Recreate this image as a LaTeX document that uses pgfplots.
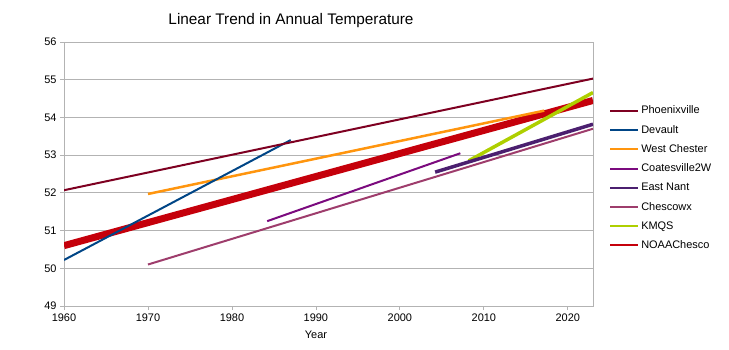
\documentclass[border=0pt]{standalone}
\usepackage{fontspec}
\setmainfont{Liberation Sans}
\usepackage{pgfplots}
\pgfplotsset{compat=1.18}
\definecolor{cPhoe}{HTML}{7E0021}
\definecolor{cDev}{HTML}{004586}
\definecolor{cWC}{HTML}{FF950E}
\definecolor{cCoat}{HTML}{7B0A7E}
\definecolor{cEN}{HTML}{4B1F6F}
\definecolor{cChes}{HTML}{9E3D6C}
\definecolor{cKMQS}{HTML}{AECF00}
\definecolor{cNOAA}{HTML}{C5000B}
\definecolor{cGrid}{HTML}{B3B3B3}
\begin{document}
\begin{tikzpicture}[x=1bp,y=1bp]
\useasboundingbox (0,0) rectangle (729,349);
\begin{axis}[
  at={(64bp,43bp)}, anchor=south west,
  scale only axis, width=529bp, height=264bp,
  xmin=1960, xmax=2023, ymin=49, ymax=56,
  xtick={1960,1970,...,2020}, ytick={49,50,...,56},
  ymajorgrids, grid style={cGrid, line width=0.8bp},
  axis line style={cGrid, line width=0.8bp},
  tick style={cGrid, line width=0.8bp},
  tick align=outside, tick pos=left, major tick length=4bp,
  ticklabel style={font=\fontsize{11}{13}\selectfont},
  /pgf/number format/1000 sep={},
  /pgf/number format/assume math mode=true,
  reverse legend,
  legend cell align=left,
  legend style={at={(1.03,0.485)}, anchor=west, draw=none, fill=none,
    font=\fontsize{11}{13}\selectfont, row sep=5.9bp, inner sep=0pt},
  legend image code/.code={\draw[#1, line width=2.2bp, line cap=butt] (0bp,0bp) -- (28bp,0bp);},
]
\addplot[cNOAA, line width=7bp, line cap=butt] coordinates {(1960,50.6) (2023,54.45)};
\addlegendentry{NOAAChesco}
\addplot[cKMQS, line width=3.5bp] coordinates {(2008.2,52.85) (2023,54.66)};
\addlegendentry{KMQS}
\addplot[cChes, line width=2bp] coordinates {(1970,50.1) (2023,53.7)};
\addlegendentry{Chescowx}
\addplot[cEN, line width=3.5bp] coordinates {(2004.2,52.55) (2023,53.82)};
\addlegendentry{East Nant}
\addplot[cCoat, line width=2bp] coordinates {(1984.2,51.25) (2007.2,53.05)};
\addlegendentry{Coatesville2W}
\addplot[cWC, line width=2.5bp] coordinates {(1970,51.97) (2017.2,54.18)};
\addlegendentry{West Chester}
\addplot[cDev, line width=2bp] coordinates {(1960,50.22) (1987,53.4)};
\addlegendentry{Devault}
\addplot[cPhoe, line width=2bp] coordinates {(1960,52.07) (2023,55.03)};
\addlegendentry{Phoenixville}
\end{axis}
\node at (291,328) {\fontsize{15.4}{17}\selectfont Linear Trend in Annual Temperature};
\node at (316,14) {\fontsize{11}{13}\selectfont Year};
\end{tikzpicture}
\end{document}
